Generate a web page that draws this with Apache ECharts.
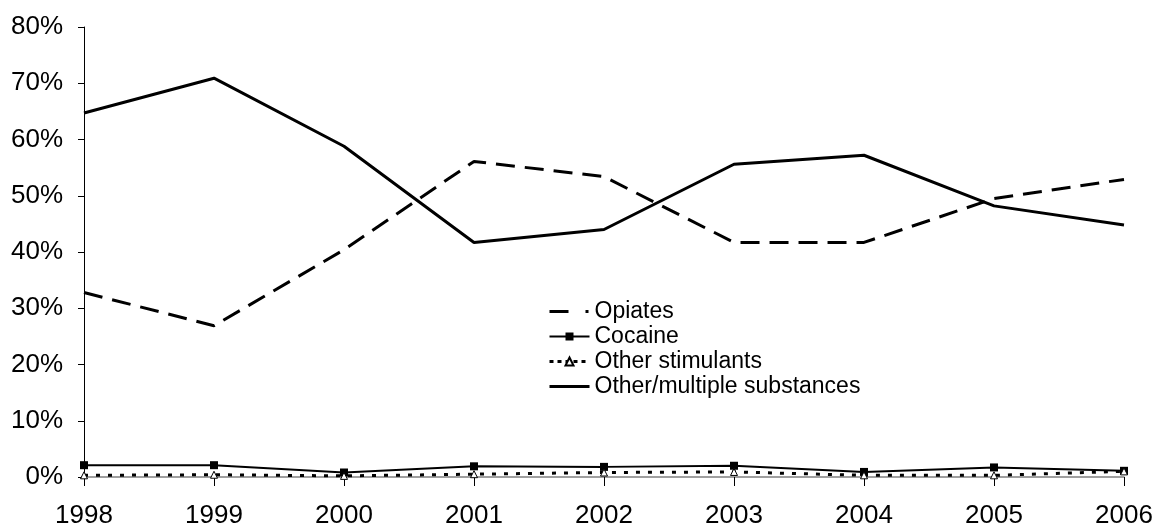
<!DOCTYPE html>
<html>
<head>
<meta charset="utf-8">
<script src="https://cdn.jsdelivr.net/npm/echarts@6/dist/echarts.min.js"></script>
<style>html,body{margin:0;padding:0;background:#fff;}#c{width:1155px;height:528px;}</style>
</head>
<body>
<div id="c"></div>
<script>
const years = ['1998','1999','2000','2001','2002','2003','2004','2005','2006'];
const opiates = [32.8, 26.9, 40.4, 56.1, 53.4, 41.7, 41.7, 49.5, 52.9];
const cocaine = [2.1, 2.1, 0.8, 1.9, 1.8, 2.0, 0.9, 1.7, 1.1];
const otherStimulants = [0.3, 0.4, 0.2, 0.5, 0.8, 0.9, 0.3, 0.3, 1.0];
const otherMultiple = [64.7, 70.9, 58.8, 41.7, 44.0, 55.6, 57.2, 48.2, 44.8];
const yTicks = [0, 10, 20, 30, 40, 50, 60, 70, 80];

const font = 'Liberation Sans, Arial, sans-serif';
const hidden = { color: 'rgba(0,0,0,0)', borderWidth: 0, opacity: 0 };
const chart = echarts.init(document.getElementById('c'));
chart.setOption({
  animation: false,
  backgroundColor: '#fff',
  grid: { left: 84, right: 31, top: 27, bottom: 51, outerBoundsMode: 'none', containLabel: false },
  legend: {
    orient: 'vertical',
    left: 543, top: 295,
    itemWidth: 40, itemHeight: 10, itemGap: 2,
    textStyle: { fontFamily: font, fontSize: 23, color: '#000' },
    data: [
      { name: 'Opiates', itemStyle: hidden, lineStyle: { width: 3, type: [19, 17, 3, 10] } },
      { name: 'Cocaine', itemStyle: { color: '#000' }, lineStyle: { width: 2 } },
      { name: 'Other stimulants', lineStyle: { width: 3, type: [4, 4] } },
      { name: 'Other/multiple substances', itemStyle: hidden, lineStyle: { width: 3 } }
    ]
  },
  xAxis: {
    type: 'category', data: years, boundaryGap: false,
    axisLine: { lineStyle: { color: '#808080', width: 1.5 } },
    axisTick: { show: true, length: 9, inside: false, lineStyle: { color: '#000' } },
    axisLabel: { fontFamily: font, fontSize: 26, color: '#000', margin: 26 },
    splitLine: { show: false }
  },
  yAxis: {
    type: 'value', min: yTicks[0], max: yTicks[yTicks.length-1], interval: 10,
    axisLine: { show: true, lineStyle: { color: '#000', width: 1 } },
    axisTick: { show: true, length: 6, lineStyle: { color: '#000' } },
    axisLabel: { fontFamily: font, fontSize: 26, color: '#000', margin: 21, formatter: v => v + '%' },
    splitLine: { show: false }
  },
  series: [
    { name: 'Opiates', type: 'line', data: opiates, symbol: 'none',
      lineStyle: { color: '#000', width: 3, type: [19, 10] }, itemStyle: { color: '#000' } },
    { name: 'Cocaine', type: 'line', data: cocaine, symbol: 'rect', symbolSize: 8,
      lineStyle: { color: '#000', width: 2 }, itemStyle: { color: '#000' } },
    { name: 'Other stimulants', type: 'line', data: otherStimulants, symbol: 'triangle', symbolSize: 7,
      lineStyle: { color: '#000', width: 3, type: [4, 8] }, itemStyle: { color: '#fff', borderColor: '#000', borderWidth: 1 } },
    { name: 'Other/multiple substances', type: 'line', data: otherMultiple, symbol: 'none',
      lineStyle: { color: '#000', width: 3 }, itemStyle: { color: '#000' } }
  ]
});
</script>
</body>
</html>
